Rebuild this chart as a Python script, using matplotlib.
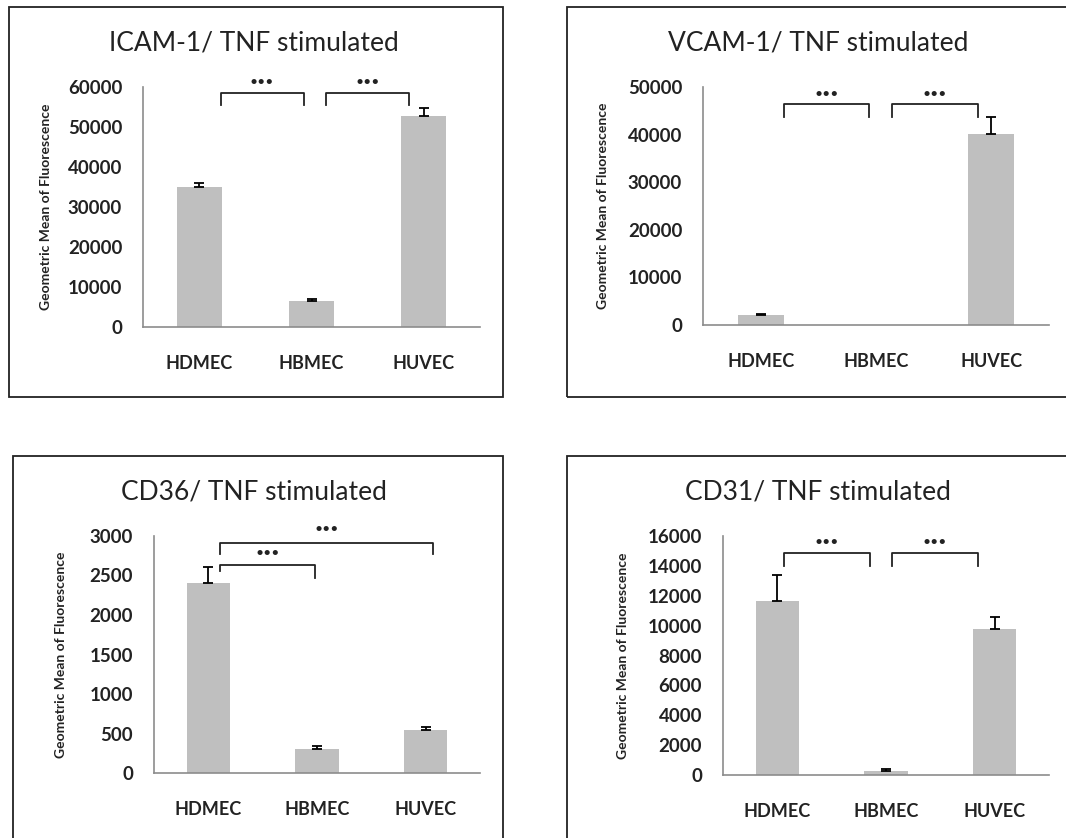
import matplotlib
matplotlib.use('Agg')
from matplotlib import pyplot as plt
from matplotlib.patches import Rectangle

plt.rcParams['font.family'] = ['Lato', 'DejaVu Sans']

W, H = 1066, 838

cells = ['HDMEC', 'HBMEC', 'HUVEC']

# ICAM-1
icam_mean = [35000, 6500, 52800]
icam_err = [1000, 500, 2000]
# VCAM-1
vcam_mean = [2100, 0, 40100]
vcam_err = [150, 0, 3600]
# CD36
cd36_mean = [2410, 300, 545]
cd36_err = [195, 42, 35]
# CD31
cd31_mean = [11650, 290, 9800]
cd31_err = [1720, 90, 780]

titles = ['ICAM-1/ TNF stimulated', 'VCAM-1/ TNF stimulated',
          'CD36/ TNF stimulated', 'CD31/ TNF stimulated']
ylims = [60000, 50000, 3000, 16000]
ysteps = [10000, 10000, 500, 2000]

# significance brackets: (x_start, x_end, y_top, y_bottom_left, y_bottom_right, y_star)
brackets = [
    [(0.19, 0.93, 58500, 55500, 55500, 61300), (1.13, 1.87, 58500, 55500, 55500, 61300)],
    [(0.20, 0.94, 46400, 43700, 43700, 48600), (1.14, 1.885, 46400, 43700, 43700, 48600)],
    [(0.11, 0.98, 2633, 2560, 2473, 2780), (0.11, 2.07, 2916, 2773, 2773, 3090)],
    [(0.06, 0.85, 14830, 13980, 13980, 15600), (1.055, 1.846, 14830, 13980, 13980, 15600)],
]

means = [icam_mean, vcam_mean, cd36_mean, cd31_mean]
errs = [icam_err, vcam_err, cd36_err, cd31_err]

# layout in pixels: box (l, t, r, b), axes (l, t, r, b), title xy, ylabel x
boxes = [(9, 7, 503, 397), (567, 7, 1075, 397), (13, 456, 503, 850), (567, 456, 1075, 850)]
axes_px = [(143, 87, 480, 327), (703, 87, 1049, 325), (154, 536, 480, 773), (723, 536, 1049, 775)]
title_xy = [(254, 43), (818, 43), (254, 492), (818, 492)]
ylab_x = [46, 603, 61, 623]

fig = plt.figure(figsize=(W / 100, H / 100), dpi=100)

for i in range(4):
    bl, bt, br, bb = boxes[i]
    fig.patches.append(Rectangle((bl / W, 1 - bb / H), (br - bl) / W, (bb - bt) / H,
                                 transform=fig.transFigure, fill=False,
                                 edgecolor='#222222', linewidth=1.3))
    al, at, ar, ab = axes_px[i]
    ax = fig.add_axes([al / W, 1 - ab / H, (ar - al) / W, (ab - at) / H])
    x = list(range(len(cells)))
    ax.bar(x, means[i], width=0.4, color='#bfbfbf')
    # only draw error bars that exist (Excel style: upper half only)
    ex = [xi for xi, e in zip(x, errs[i]) if e > 0]
    em = [m for m, e in zip(means[i], errs[i]) if e > 0]
    ee = [e for e in errs[i] if e > 0]
    ax.errorbar(ex, em, yerr=[[0] * len(ee), ee], fmt='none',
                ecolor='black', elinewidth=1.3, capsize=3.5, capthick=1.3)
    ax.set_xlim(-0.5, 2.5)
    ax.set_ylim(0, ylims[i])
    ax.set_yticks(range(0, ylims[i] + 1, ysteps[i]))
    ax.set_xticks(x)
    ax.set_xticklabels(cells, fontsize=13, color='#222222')
    ax.tick_params(axis='y', length=0, pad=15, labelsize=13.5, labelcolor='#222222')
    ax.tick_params(axis='x', length=0, pad=20)
    for lbl in ax.get_yticklabels():
        lbl.set_fontweight('bold')
    for lbl in ax.get_xticklabels():
        lbl.set_fontweight('bold')
    for s in ['top', 'right']:
        ax.spines[s].set_visible(False)
    for s in ['left', 'bottom']:
        ax.spines[s].set_color('#8c8c8c')
        ax.spines[s].set_linewidth(1.2)

    for x0, x1, yt, yb0, yb1, ys in brackets[i]:
        ax.plot([x0, x0, x1, x1], [yb0, yt, yt, yb1], color='#222222',
                linewidth=1.3, clip_on=False)
        ax.text((x0 + x1) / 2, ys, '•••', ha='center', va='center',
                fontsize=10, color='#222222', clip_on=False)

    tx, ty = title_xy[i]
    fig.text(tx / W, 1 - ty / H, titles[i], ha='center', va='center',
             fontsize=19, color='#222222')
    fig.text(ylab_x[i] / W, 1 - ((at + ab) / 2) / H, 'Geometric Mean of Fluorescence',
             rotation=90, ha='center', va='center', fontsize=10,
             fontweight='bold', color='#222222')

plt.savefig('out.png', dpi=100)
plt.close()
